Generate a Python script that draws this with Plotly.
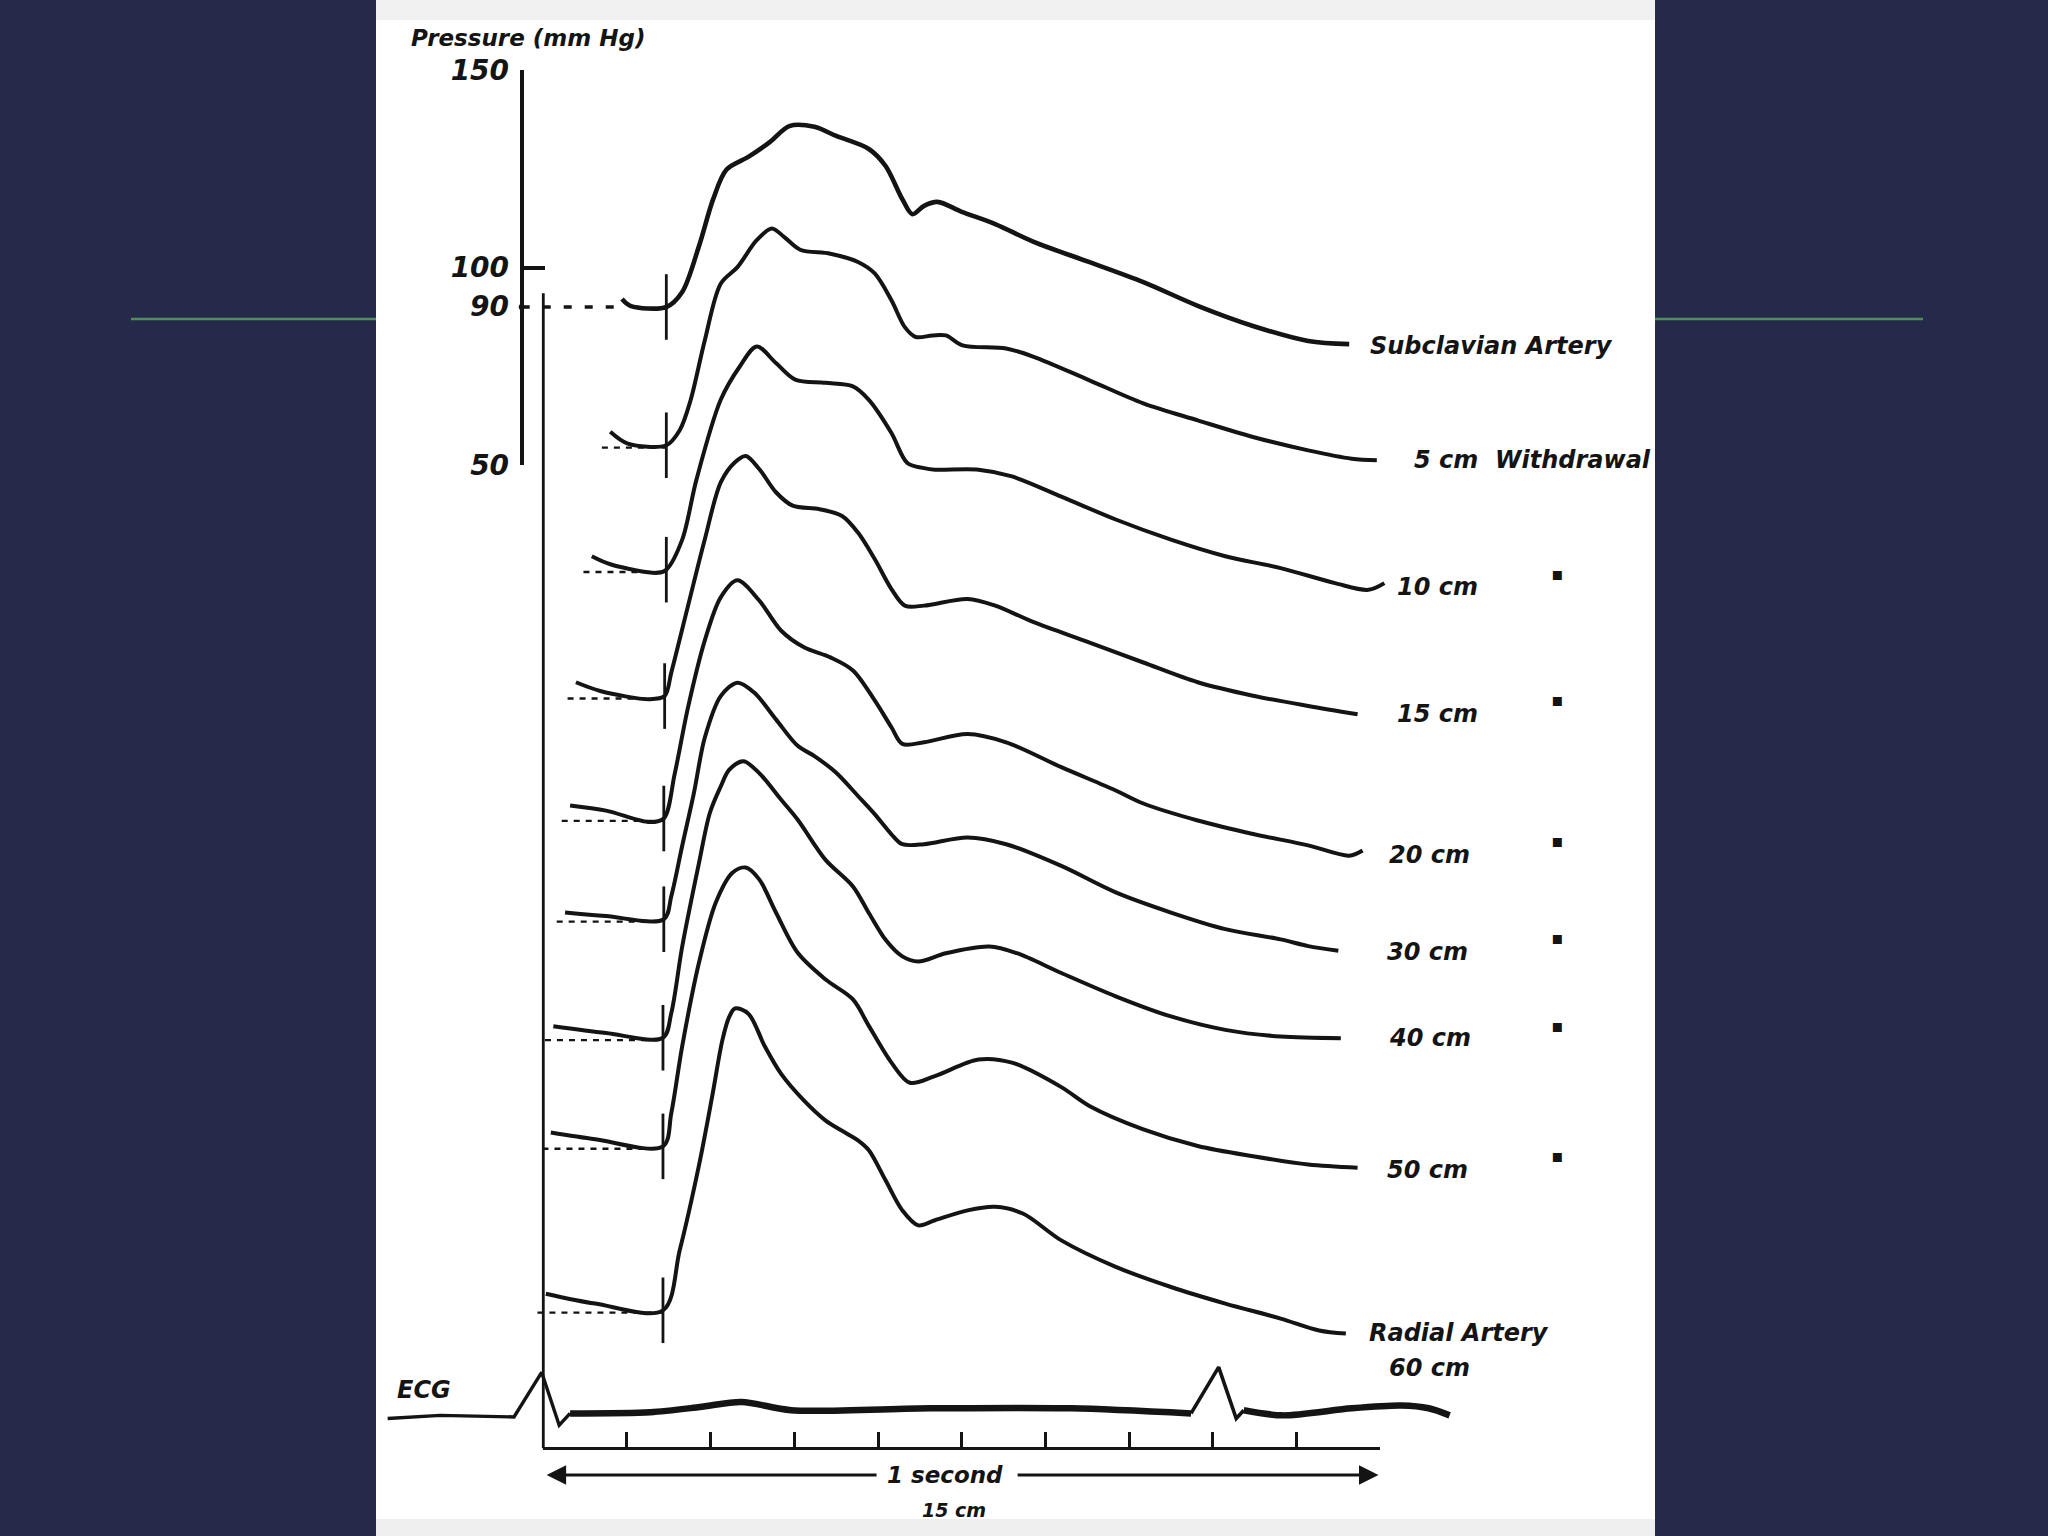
import plotly.graph_objects as go

# ---------------- data ----------------
# time in seconds after the ECG R wave; wave values = pressure rise (mmHg) above each trace's foot
t_subclavian = [0.094, 0.104, 0.147, 0.166, 0.186, 0.203, 0.219, 0.245, 0.271, 0.294, 0.324, 0.350, 0.389, 0.409,
                0.429, 0.441, 0.455, 0.471, 0.500, 0.540, 0.586, 0.652, 0.717, 0.782, 0.848, 0.914, 0.963]
rise_subclavian = [2.0, 0.3, 0.0, 3.8, 15.4, 27.3, 34.8, 38.0, 41.8, 45.8, 45.6, 43.3, 40.0, 35.7,
                   27.3, 23.5, 25.6, 26.6, 24.1, 21.0, 16.5, 11.4, 6.3, 0.3, -4.8, -8.6, -9.4]

t_5cm = [0.080, 0.101, 0.147, 0.163, 0.176, 0.193, 0.212, 0.232, 0.255, 0.273, 0.288, 0.307, 0.343, 0.376, 0.396,
         0.416, 0.432, 0.445, 0.465, 0.481, 0.501, 0.553, 0.586, 0.652, 0.717, 0.782, 0.848, 0.914, 0.966, 0.996]
rise_5cm = [3.4, 0.4, 0.0, 3.8, 11.4, 26.6, 40.9, 45.1, 51.9, 54.9, 52.7, 49.5, 48.5, 46.4, 43.5,
            36.7, 29.9, 27.4, 27.8, 27.8, 25.3, 24.5, 22.4, 16.5, 10.6, 6.3, 2.1, -1.3, -3.4, -3.8]

t_10cm = [0.058, 0.081, 0.137, 0.147, 0.166, 0.183, 0.212, 0.235, 0.255, 0.278, 0.301, 0.337, 0.370, 0.389,
          0.416, 0.435, 0.455, 0.468, 0.520, 0.560, 0.619, 0.684, 0.750, 0.815, 0.881, 0.946, 0.986, 1.005]
rise_10cm = [3.4, 1.3, -0.8, 0.0, 7.6, 22.8, 43.0, 51.5, 56.5, 52.3, 48.1, 47.3, 46.4, 43.0,
             34.6, 27.0, 25.7, 25.3, 25.3, 23.6, 18.5, 12.7, 7.6, 3.4, 0.4, -3.4, -5.1, -3.4]

t_15cm = [0.039, 0.068, 0.127, 0.145, 0.153, 0.173, 0.193, 0.212, 0.229, 0.242, 0.258, 0.278, 0.298, 0.330, 0.357,
          0.376, 0.396, 0.416, 0.432, 0.455, 0.507, 0.540, 0.586, 0.652, 0.717, 0.782, 0.848, 0.914, 0.973]
rise_15cm = [3.5, 1.3, -0.8, 0.0, 6.0, 22.9, 39.7, 54.1, 59.2, 60.8, 57.5, 51.6, 48.2, 47.3, 45.6,
             41.4, 34.7, 27.1, 22.9, 22.9, 24.6, 22.9, 18.7, 13.6, 8.5, 3.5, 0.1, -2.5, -4.6]

t_20cm = [0.032, 0.075, 0.127, 0.144, 0.157, 0.173, 0.193, 0.212, 0.232, 0.258, 0.284, 0.311, 0.343, 0.370,
          0.396, 0.416, 0.429, 0.455, 0.507, 0.553, 0.619, 0.684, 0.717, 0.782, 0.848, 0.914, 0.963, 0.979]
rise_20cm = [3.3, 2.0, -0.9, 0.0, 11.3, 28.2, 45.1, 56.0, 60.3, 55.2, 47.6, 43.4, 40.8, 37.5,
             29.9, 23.1, 18.9, 19.3, 21.4, 19.3, 13.0, 7.1, 3.8, -0.5, -3.9, -6.8, -9.4, -8.1]

t_30cm = [0.026, 0.075, 0.144, 0.153, 0.166, 0.180, 0.193, 0.212, 0.232, 0.252, 0.278, 0.304, 0.324, 0.350,
          0.376, 0.396, 0.416, 0.429, 0.455, 0.507, 0.553, 0.619, 0.684, 0.750, 0.815, 0.881, 0.914, 0.950]
rise_30cm = [1.7, 0.8, 0.0, 5.9, 18.6, 32.0, 46.0, 56.5, 59.9, 57.4, 50.6, 43.9, 41.3, 37.1,
             31.2, 26.6, 21.5, 19.0, 19.0, 20.7, 19.0, 13.5, 6.8, 1.7, -2.5, -5.1, -6.8, -8.0]

t_40cm = [0.012, 0.075, 0.143, 0.153, 0.166, 0.186, 0.199, 0.212, 0.222, 0.239, 0.258, 0.284, 0.304, 0.337,
          0.370, 0.389, 0.409, 0.429, 0.448, 0.481, 0.533, 0.566, 0.619, 0.684, 0.750, 0.815, 0.881, 0.953]
rise_40cm = [2.9, 1.2, 0.0, 6.3, 23.1, 44.2, 56.9, 63.6, 67.8, 70.0, 67.0, 60.3, 55.2, 45.1,
             38.3, 31.6, 24.8, 20.6, 19.3, 21.4, 23.1, 21.4, 16.4, 10.5, 5.4, 2.0, 0.3, -0.1]

t_50cm = [0.009, 0.062, 0.143, 0.153, 0.166, 0.186, 0.206, 0.226, 0.242, 0.258, 0.278, 0.304, 0.337, 0.370,
          0.389, 0.416, 0.438, 0.468, 0.520, 0.560, 0.619, 0.652, 0.717, 0.782, 0.848, 0.914, 0.973]
rise_50cm = [3.5, 1.8, 0.0, 8.5, 25.4, 46.5, 61.7, 69.3, 70.6, 67.6, 59.2, 49.0, 42.3, 37.2,
             30.5, 21.2, 16.1, 17.8, 22.0, 21.2, 15.0, 10.3, 4.3, 0.1, -2.5, -4.6, -5.4]

t_radial = [0.003, 0.062, 0.143, 0.163, 0.186, 0.202, 0.214, 0.222, 0.229, 0.245, 0.265, 0.284, 0.311, 0.337, 0.363,
            0.376, 0.389, 0.409, 0.429, 0.448, 0.468, 0.507, 0.540, 0.573, 0.619, 0.684, 0.750, 0.815, 0.881, 0.927,
            0.959]
rise_radial = [4.2, 1.7, 0.0, 15.2, 36.7, 54.4, 68.4, 74.2, 76.4, 75.1, 66.7, 59.9, 53.2, 48.1, 44.7,
               43.0, 40.5, 32.9, 25.3, 21.5, 22.8, 25.3, 26.2, 24.5, 17.7, 11.0, 5.9, 1.7, -2.1, -5.1,
               -5.9]

# level (on the mmHg scale of the figure) at which each record is drawn
baseline_mmHg = [90, 55, 23.5, -8.5, -39.5, -65, -95, -122.5, -164]

site_labels = ["Subclavian Artery", "5 cm  Withdrawal", "10 cm", "15 cm", "20 cm", "30 cm", "40 cm", "50 cm",
               "Radial Artery"]

# ECG
t_ecg = [-0.186, -0.123, -0.035, -0.002, 0.019, 0.032, 0.128, 0.187, 0.237, 0.296, 0.463, 0.631, 0.774, 0.807,
         0.828, 0.837, 0.883, 0.966, 1.025, 1.058, 1.083]
ecg_deflection = [-1.8, -1.0, -1.4, 9.9, -3.5, -0.5, -0.2, 1.1, 2.4, 0.3, 0.8, 0.8, -0.5, 11.2,
                  -1.8, 0.3, -1.0, 0.8, 1.5, 0.8, -1.0]
ecg_level = -189.6

pressure_ticks = [50, 100, 150]
reference_pressure = 90
time_ticks = [0.1, 0.2, 0.3, 0.4, 0.5, 0.6, 0.7, 0.8, 0.9, 1.0]
time_scale_level = -198.9

# ---------------- figure ----------------
ink = "#141414"
navy = "#252a4b"


def lab_font(size):
    return dict(family="DejaVu Sans", size=size, color=ink, weight="bold", style="italic")


fig = go.Figure()

series = [(t_subclavian, rise_subclavian), (t_5cm, rise_5cm), (t_10cm, rise_10cm), (t_15cm, rise_15cm),
          (t_20cm, rise_20cm), (t_30cm, rise_30cm), (t_40cm, rise_40cm), (t_50cm, rise_50cm),
          (t_radial, rise_radial)]

tick_x, tick_y = [], []
for i, ((ts, rs), base) in enumerate(zip(series, baseline_mmHg)):
    foot = ts[rs.index(0.0)]
    # dashed zero-pressure reference
    if i == 0:
        fig.add_trace(go.Scatter(x=[-0.0258, ts[0]], y=[base, base], mode="lines",
                                 line=dict(color=ink, width=3.5, dash="8px,13px"), hoverinfo="skip"))
    else:
        fig.add_trace(go.Scatter(x=[ts[0] - 0.01, foot], y=[base - 0.6, base - 0.6], mode="lines",
                                 line=dict(color=ink, width=2.4, dash="6px,6px"), hoverinfo="skip"))
    fig.add_trace(go.Scatter(x=ts, y=[base + r for r in rs], mode="lines", name=site_labels[i],
                             line=dict(color=ink, width=4.6 if i == 0 else 4.0, shape="spline", smoothing=0.9)))
    tick_x += [foot, foot, None]
    tick_y += [base - 8.3, base + 8.3, None]

fig.add_trace(go.Scatter(x=tick_x, y=tick_y, mode="lines", line=dict(color=ink, width=2.8), hoverinfo="skip"))

# time-zero line at the R wave
fig.add_trace(go.Scatter(x=[0, 0], y=[93.5, time_scale_level], mode="lines",
                         line=dict(color=ink, width=2.8), hoverinfo="skip"))

# ECG
ecg_y = [ecg_level + v for v in ecg_deflection]
for a, b, w, shp in [(0, 6, 3.4, "linear"), (5, 13, 6.5, "spline"), (12, 16, 3.6, "linear"), (15, 21, 6.5, "spline")]:
    fig.add_trace(go.Scatter(x=t_ecg[a:b], y=ecg_y[a:b], mode="lines",
                             line=dict(color=ink, width=w, shape=shp, smoothing=0.8), hoverinfo="skip"))

# pressure scale: point at the reference pressure on its own axis
fig.add_trace(go.Scatter(x=[-0.0258], y=[reference_pressure], yaxis="y2", mode="markers",
                         marker=dict(color=ink, size=6), hoverinfo="skip"))
# time scale carrier trace
fig.add_trace(go.Scatter(x=[0.5], y=[time_scale_level], xaxis="x2", mode="markers",
                         marker=dict(color="rgba(0,0,0,0)", size=1), hoverinfo="skip"))

# ---------------- annotations ----------------
ann = []
label_pos = [(0.9854, 80.0), (1.0377, 51.3), (1.0177, 19.1), (1.0177, -13.1), (1.0078, -48.8),
             (1.0057, -73.2), (1.0078, -95.1), (1.0057, -128.6), (0.9839, -169.8)]
for txt, (x, y) in zip(site_labels, label_pos):
    ann.append(dict(x=x, y=y, text=txt, xanchor="left", yanchor="middle", showarrow=False, font=lab_font(24)))
ann.append(dict(x=1.0078, y=-178.7, text="60 cm", xanchor="left", yanchor="middle", showarrow=False,
                font=lab_font(24)))
for y in [22.5, -9.4, -45.0, -69.5, -91.8, -124.8]:
    ann.append(dict(x=1.211, y=y, text="\u25aa", xanchor="center", yanchor="middle", showarrow=False,
                    font=dict(family="DejaVu Sans", size=18, color=ink)))

ann.append(dict(x=-0.1605, y=158.0, text="Pressure (mm Hg)", xanchor="left", yanchor="middle",
                showarrow=False, font=lab_font(23)))
ann.append(dict(x=-0.0385, y=reference_pressure, yref="y2", text="90", xanchor="right", yanchor="middle",
                showarrow=False, font=lab_font(28)))
ann.append(dict(x=-0.1778, y=-184.2, text="ECG", xanchor="left", yanchor="middle", showarrow=False,
                font=lab_font(24)))
ann.append(dict(x=0.48, y=-205.7, text="1 second", xanchor="center", yanchor="middle", showarrow=False,
                font=lab_font(23)))
ann.append(dict(x=0.4907, y=-214.6, text="15 cm", xanchor="center", yanchor="middle", showarrow=False,
                font=lab_font(19)))
for head, tail in [(0.004, 0.40), (0.998, 0.565)]:
    ann.append(dict(x=head, y=-205.7, ax=tail, ay=-205.7, xref="x", yref="y", axref="x", ayref="y", text="",
                    showarrow=True, arrowhead=2, arrowsize=1.3, arrowwidth=3, arrowcolor=ink))

# ---------------- layout ----------------
shapes = [
    dict(type="rect", xref="paper", yref="paper", x0=376 / 2048, x1=1655 / 2048, y0=0, y1=1,
         fillcolor="white", line=dict(width=0), layer="below"),
    dict(type="rect", xref="paper", yref="paper", x0=376 / 2048, x1=1655 / 2048, y0=1 - 20 / 1536, y1=1,
         fillcolor="#f0f0f0", line=dict(width=0), layer="below"),
    dict(type="rect", xref="paper", yref="paper", x0=376 / 2048, x1=1655 / 2048, y0=0, y1=17 / 1536,
         fillcolor="#efefef", line=dict(width=0), layer="below"),
    dict(type="line", xref="paper", yref="paper", x0=131 / 2048, x1=376 / 2048, y0=1 - 319 / 1536,
         y1=1 - 319 / 1536, line=dict(color="#4f8f4f", width=2.5), layer="below"),
    dict(type="line", xref="paper", yref="paper", x0=1655 / 2048, x1=1923 / 2048, y0=1 - 319 / 1536,
         y1=1 - 319 / 1536, line=dict(color="#4f8f4f", width=2.5), layer="below"),
]

fig.update_layout(
    width=2048, height=1536, autosize=False,
    margin=dict(l=0, r=0, t=0, b=0, pad=0, autoexpand=False),
    paper_bgcolor=navy, plot_bgcolor="rgba(0,0,0,0)",
    showlegend=False,
    xaxis=dict(domain=[0, 1], range=[-0.6492, 1.7980], visible=False, fixedrange=True, automargin=False),
    yaxis=dict(domain=[0, 1], range=[-221.14, 167.72], visible=False, fixedrange=True, automargin=False),
    yaxis2=dict(domain=[1 - 465 / 1536, 1 - 70 / 1536], range=[50, 150], anchor="free", position=521.7 / 2048,
                side="left", showline=True, linewidth=4, linecolor=ink, ticks="inside", tickvals=pressure_ticks,
                ticktext=[str(v) for v in pressure_ticks], ticklen=21, tickwidth=4, tickcolor=ink,
                tickfont=lab_font(28), ticklabelstandoff=5, showgrid=False, zeroline=False, fixedrange=True,
                automargin=False),
    xaxis2=dict(domain=[543.3 / 2048, 1380.2 / 2048], range=[0, 1], anchor="free", position=1 - 1448.3 / 1536,
                side="bottom", showline=True, linewidth=3, linecolor=ink, ticks="inside", tickvals=time_ticks,
                ticklen=15, tickwidth=2.6, tickcolor=ink, showticklabels=False, showgrid=False, zeroline=False,
                fixedrange=True, automargin=False),
    shapes=shapes,
    annotations=ann,
)

fig.write_html("out.html", config={"displayModeBar": False},
               post_script="document.body.style.margin='0';document.body.style.overflow='hidden';")
